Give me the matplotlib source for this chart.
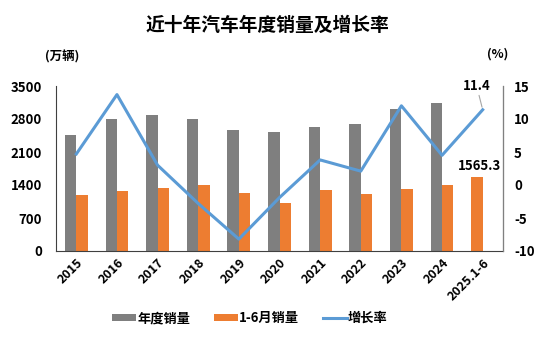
import matplotlib
matplotlib.use("Agg")
import matplotlib.pyplot as plt
import numpy as np

plt.rcParams['font.family'] = ['Noto Sans CJK SC', 'DejaVu Sans']
plt.rcParams['axes.unicode_minus'] = False

categories = ['2015', '2016', '2017', '2018', '2019', '2020', '2021', '2022', '2023', '2024', '2025.1-6']
annual_sales = [2459.8, 2802.8, 2887.9, 2808.1, 2576.9, 2531.1, 2627.5, 2686.4, 3009.4, 3143.6, np.nan]
h1_sales = [1185.0, 1283.0, 1335.9, 1406.6, 1232.3, 1025.7, 1289.1, 1205.7, 1323.9, 1404.7, 1565.3]
growth = [4.7, 13.7, 3.0, -2.8, -8.2, -1.9, 3.8, 2.1, 12.0, 4.5, 11.4]
left_ticks = [0, 700, 1400, 2100, 2800, 3500]
right_ticks = [-10, -5, 0, 5, 10, 15]

gray = '#7F7F7F'
orange = '#ED7D31'
blue = '#5B9BD5'

fig = plt.figure(figsize=(5.41, 3.38), dpi=100)
ax = fig.add_axes([56/541, 1-251/338, (503-56)/541, (251-86)/338])
ax2 = ax.twinx()

x = np.arange(len(categories))
w = 0.28
ax.bar(x[:-1] - w/2, annual_sales[:-1], w, color=gray, label='年度销量', zorder=2)
h1_x = np.concatenate([x[:-1] + w/2, [x[-1] - w/2]])
ax.bar(h1_x, h1_sales, w, color=orange, label='1-6月销量', zorder=2)
ax2.plot(x, growth, color=blue, lw=2.2, label='增长率', zorder=3)

ax.set_xlim(-0.5, len(categories) - 0.5)
ax.set_ylim(0, 3500)
ax.set_yticks(left_ticks)
ax2.set_ylim(-10, 15)
ax2.set_yticks(right_ticks)

ax.set_xticks(x)
ax.set_xticklabels(categories, rotation=45, ha='right', rotation_mode='anchor',
                   fontsize=9, fontweight='bold')
for lab in ax.get_yticklabels():
    lab.set_fontsize(9.5); lab.set_fontweight('bold')
for lab in ax2.get_yticklabels():
    lab.set_fontsize(9.5); lab.set_fontweight('bold')
ax.tick_params(axis='both', length=0, pad=4)
ax2.tick_params(axis='y', length=0, pad=8)
ax.tick_params(axis='y', pad=10)

for a in (ax, ax2):
    a.spines['top'].set_visible(False)
ax.spines['left'].set_color('#404040')
ax.spines['bottom'].set_color('#404040')
ax2.spines['right'].set_color('#808080')
ax2.spines['left'].set_visible(False)
ax2.spines['bottom'].set_visible(False)

# annotations
ax.text(x[-1] - w/2 + 0.07, h1_sales[-1] + 90, '1565.3', ha='center', va='bottom',
        fontsize=9.5, fontweight='bold')
ax2.annotate('11.4', xy=(x[-1], growth[-1]), xytext=(x[-1] - 0.15, growth[-1] + 2.6),
             ha='center', va='bottom', fontsize=9.5, fontweight='bold',
             arrowprops=dict(arrowstyle='-', color='#A6A6A6', lw=0.8, shrinkA=0, shrinkB=2))

fig.text(267/541, 1-25/338, '近十年汽车年度销量及增长率', ha='center', va='center',
         fontsize=13.5, fontweight='bold')
fig.text(62/541, 1-57/338, '(万辆)', ha='center', va='center', fontsize=9, fontweight='bold')
fig.text(498/541, 1-54/338, '(%)', ha='center', va='center', fontsize=9, fontweight='bold')

h1, l1 = ax.get_legend_handles_labels()
h2, l2 = ax2.get_legend_handles_labels()
leg = fig.legend(h1 + h2, l1 + l2, loc='center', bbox_to_anchor=(250/541, 1-318/338),
                 ncol=3, frameon=False, prop={'size': 9.5, 'weight': 'bold'},
                 handlelength=1.8, handleheight=0.5, columnspacing=1.8, handletextpad=0.1)

fig.savefig('out.png', dpi=100)
